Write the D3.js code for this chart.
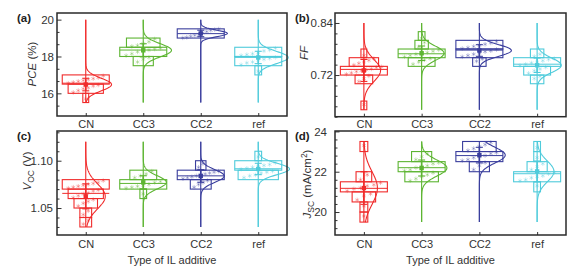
<!DOCTYPE html>
<html>
<head>
<meta charset="utf-8">
<script src="https://cdn.jsdelivr.net/npm/d3@7/dist/d3.min.js"></script>
<style>
    body { margin: 0; background: #fff; }
    svg { display: block; font-family: "Liberation Sans", Arial, sans-serif; }
</style>
</head>
<body>
<div id="chart"></div>
<script>
// Groups along the x axis
var categories = ["CN", "CC3", "CC2", "ref"];

// PCE (%) of each device, one list per group
var pceValues = [
    [15.7, 16.05, 16.15, 16.25, 16.3, 16.4, 16.45, 16.55, 16.6, 16.65, 16.7, 16.75, 16.8, 16.85, 16.95],
    [17.7, 17.85, 17.95, 18.05, 18.15, 18.25, 18.3, 18.35, 18.4, 18.45, 18.55, 18.6, 18.7, 18.8, 18.95],
    [19.01, 19.04, 19.1, 19.15, 19.2, 19.28, 19.35, 19.42, 19.46, 19.49],
    [17.2, 17.55, 17.65, 17.7, 17.8, 17.85, 17.9, 17.95, 18.05, 18.1, 18.15, 18.2, 18.3, 18.35, 18.45]
];

// FF
var ffValues = [
    [0.652, 0.705, 0.712, 0.718, 0.722, 0.725, 0.728, 0.73, 0.732, 0.734, 0.737, 0.739, 0.743, 0.747, 0.75, 0.754, 0.758, 0.765],
    [0.745, 0.75, 0.755, 0.758, 0.762, 0.765, 0.768, 0.77, 0.772, 0.775, 0.778, 0.785, 0.795, 0.805],
    [0.752, 0.757, 0.762, 0.765, 0.768, 0.771, 0.774, 0.776, 0.779, 0.781, 0.783, 0.786, 0.789, 0.791, 0.794, 0.797],
    [0.712, 0.717, 0.724, 0.73, 0.734, 0.738, 0.742, 0.745, 0.748, 0.75, 0.753, 0.756, 0.758, 0.763, 0.768]
];

// Voc (V)
var vocValues = [
    [1.033, 1.037, 1.043, 1.047, 1.052, 1.055, 1.057, 1.059, 1.061, 1.063, 1.065, 1.066, 1.068, 1.069,
     1.071, 1.072, 1.073, 1.074, 1.075, 1.076, 1.077, 1.079],
    [1.065, 1.071, 1.072, 1.073, 1.074, 1.075, 1.077, 1.078, 1.082, 1.084, 1.086, 1.089],
    [1.072, 1.075, 1.077, 1.079, 1.081, 1.082, 1.083, 1.084, 1.085, 1.086, 1.087, 1.088, 1.089, 1.093, 1.097],
    [1.082, 1.084, 1.085, 1.087, 1.088, 1.089, 1.091, 1.092, 1.093, 1.094, 1.095, 1.096, 1.098, 1.104]
];

// Jsc (mA/cm2)
var jscValues = [
    [19.8, 20.3, 20.6, 20.8, 20.9, 21.05, 21.15, 21.2, 21.3, 21.35, 21.45, 21.6, 21.85, 23.3],
    [21.55, 21.65, 21.75, 21.85, 21.95, 22.05, 22.1, 22.2, 22.25, 22.3, 22.4, 22.45, 22.6, 22.75, 22.9],
    [22.1, 22.3, 22.45, 22.55, 22.6, 22.7, 22.75, 22.8, 22.9, 22.95, 23.05, 23.15, 23.25, 23.35, 23.45],
    [21.3, 21.55, 21.6, 21.7, 21.75, 21.8, 21.9, 21.95, 22.1, 22.25, 22.4, 22.7, 23.2]
];

// Labelled y ticks of each panel
var pceTicks = [16, 18, 20];
var ffTicks = [0.72, 0.84];
var vocTicks = [1.05, 1.10];
var jscTicks = [20, 22, 24];

function init() {
    var w = 580;
    var h = 266;

    // Group colours: red, green, navy, cyan
    var colors = ["#f02b2b", "#5db532", "#3a3e9d", "#4fcbdb"];
    var maxHalf = 23.5; // half width of the tallest histogram bar

    var svg = d3.select("#chart")
        .append("svg")
        .attr("width", w)
        .attr("height", h);

    var panels = [
        { tag: "(a)", values: pceValues, ticks: pceTicks, fmt: d3.format("d"),
          left: 57, right: 287, top: 13, bottom: 116, domain: [14.77, 20.36],
          minorStep: 2 / 3, binW: 0.5, span: [15.5, 20], tickGap: 3,
          tagX: 17, tagY: 22, titleX: 36, titleY: 64, title: "pce", xLabels: false },
        { tag: "(b)", values: ffValues, ticks: ffTicks, fmt: d3.format(".2f"),
          left: 335, right: 566, top: 13, bottom: 116.7, domain: [0.624, 0.863],
          minorStep: 0.024, binW: 0.02, span: [0.64, 0.84], tickGap: 2,
          tagX: 295, tagY: 22, titleX: 308, titleY: 53, title: "ff", xLabels: false },
        { tag: "(c)", values: vocValues, ticks: vocTicks, fmt: d3.format(".2f"),
          left: 57, right: 287, top: 131, bottom: 235, domain: [1.0215, 1.1314],
          minorStep: 0.01, binW: 0.01, span: [1.03, 1.12], tickGap: 4,
          tagX: 17, tagY: 140, titleX: 31, titleY: 171, title: "voc", xLabels: true },
        { tag: "(d)", values: jscValues, ticks: jscTicks, fmt: d3.format("d"),
          left: 335, right: 566, top: 131, bottom: 235, domain: [18.86, 24.02],
          minorStep: 0.4, binW: 0.5, span: [19.5, 23.5], tickGap: 8,
          tagX: 295, tagY: 140, titleX: 311, titleY: 184, title: "jsc", xLabels: true }
    ];

    panels.forEach(function (p) {
        var x = d3.scaleLinear().domain([0.5, 4.5]).range([p.left, p.right]);
        var y = d3.scaleLinear().domain(p.domain).range([p.bottom, p.top]);
        var g = svg.append("g");

        // Minor ticks between the labelled ones
        var minor = [];
        var m = Math.ceil((p.domain[0] - p.ticks[0]) / p.minorStep - 1e-6);
        for (var v = p.ticks[0] + m * p.minorStep; v < p.domain[1]; v += p.minorStep) {
            var isMajor = p.ticks.some(function (t) { return Math.abs(t - v) < 1e-6; });
            if (!isMajor) minor.push(v);
        }

        g.append("g")
            .attr("transform", "translate(" + p.left + ",0)")
            .call(d3.axisLeft(y).tickValues(minor).tickSize(-2.5).tickFormat(""))
            .call(function (a) { a.select(".domain").remove(); })
            .selectAll("line").attr("stroke", "#333");

        var yAxis = g.append("g")
            .attr("transform", "translate(" + p.left + ",0)")
            .call(d3.axisLeft(y).tickValues(p.ticks).tickSize(-4.5).tickPadding(p.tickGap).tickFormat(p.fmt));
        yAxis.select(".domain").remove();
        yAxis.selectAll("line").attr("stroke", "#333");
        yAxis.selectAll("text")
            .attr("fill", "#333")
            .style("font-size", "11.5px")
            .style("font-family", "'Liberation Sans', Arial, sans-serif");

        var xAxis = g.append("g")
            .attr("transform", "translate(0," + p.bottom + ")")
            .call(d3.axisBottom(x).tickValues([1, 2, 3, 4]).tickSize(-3)
                .tickPadding(p.xLabels ? 5 : 4)
                .tickFormat(function (d) { return categories[d - 1]; }));
        xAxis.select(".domain").remove();
        xAxis.selectAll("line").attr("stroke", "#333");
        xAxis.selectAll("text")
            .attr("fill", "#333")
            .style("font-size", "11px")
            .style("font-family", "'Liberation Sans', Arial, sans-serif");

        // One group at a time: line, histogram, points, curve, mean and SD
        p.values.forEach(function (vals, i) {
            var cx = x(i + 1);
            var col = colors[i];
            var thresholds = d3.range(p.span[0], p.span[1] + p.binW / 2, p.binW);
            var bins = d3.bin()
                .domain([p.span[0], p.span[1]])
                .thresholds(thresholds)(vals)
                .filter(function (b) { return b.length > 0; });
            var unit = maxHalf / d3.max(bins, function (b) { return b.length; });
            var mean = d3.mean(vals);
            var sd = d3.deviation(vals);
            var med = d3.median(vals);

            g.append("line")
                .attr("x1", cx).attr("x2", cx)
                .attr("y1", y(p.span[0])).attr("y2", y(p.span[1]))
                .attr("stroke", col).attr("stroke-width", 1.1);

            g.selectAll(null)
                .data(bins)
                .enter()
                .append("rect")
                .attr("x", function (b) { return cx - b.length * unit; })
                .attr("width", function (b) { return 2 * b.length * unit; })
                .attr("y", function (b) { return y(b.x1); })
                .attr("height", function (b) { return y(b.x0) - y(b.x1); })
                .attr("fill", "none")
                .attr("stroke", col)
                .attr("stroke-width", 1.1);

            // Scatter spread across its own bar
            bins.forEach(function (b) {
                var half = b.length * unit;
                b.slice().sort(d3.ascending).forEach(function (v, j) {
                    var px = cx + ((j + 0.5) / b.length - 0.5) * 2 * half * 0.85;
                    g.append("path")
                        .attr("d", d3.symbol().type(d3.symbolAsterisk).size(14)())
                        .attr("transform", "translate(" + px + "," + y(v) + ")")
                        .attr("fill", "none")
                        .attr("stroke", col)
                        .attr("stroke-opacity", 0.4)
                        .attr("stroke-width", 0.8);
                });
            });

            // Normal curve with the same area as the histogram
            var area = vals.length * p.binW * unit;
            var pts = d3.range(0, 121).map(function (k) {
                var v = p.span[0] + (p.span[1] - p.span[0]) * k / 120;
                var z = (v - mean) / sd;
                return [cx + area * Math.exp(-0.5 * z * z) / (sd * Math.sqrt(2 * Math.PI)), y(v)];
            });
            g.append("path")
                .attr("d", d3.line()(pts))
                .attr("fill", "none")
                .attr("stroke", col)
                .attr("stroke-width", 1.1);

            // Median line across the widest bar
            g.append("line")
                .attr("x1", cx - maxHalf).attr("x2", cx + maxHalf)
                .attr("y1", y(med)).attr("y2", y(med))
                .attr("stroke", col).attr("stroke-width", 1);

            // Mean +/- SD
            [mean - sd, mean + sd].forEach(function (v) {
                g.append("line")
                    .attr("x1", cx - 3.5).attr("x2", cx + 3.5)
                    .attr("y1", y(v)).attr("y2", y(v))
                    .attr("stroke", col).attr("stroke-width", 1.1);
            });
            g.append("line")
                .attr("x1", cx).attr("x2", cx)
                .attr("y1", y(mean - sd)).attr("y2", y(mean + sd))
                .attr("stroke", col).attr("stroke-width", 1.6);
            g.append("rect")
                .attr("x", cx - 2.2).attr("y", y(mean) - 2.2)
                .attr("width", 4.4).attr("height", 4.4)
                .attr("fill", col);
        });

        // Frame
        g.append("rect")
            .attr("x", p.left).attr("y", p.top)
            .attr("width", p.right - p.left).attr("height", p.bottom - p.top)
            .attr("fill", "none")
            .attr("stroke", "#2a2a2a")
            .attr("stroke-width", 1.5);

        // Panel letter
        g.append("text")
            .attr("x", p.tagX).attr("y", p.tagY)
            .attr("font-size", 11.5)
            .attr("font-weight", "bold")
            .attr("fill", "#222")
            .text(p.tag);

        // Y title
        var t = g.append("text")
            .attr("transform", "translate(" + p.titleX + "," + p.titleY + ") rotate(-90)")
            .attr("text-anchor", "middle")
            .attr("font-size", 11.5)
            .attr("fill", "#333");
        if (p.title === "pce") {
            t.append("tspan").attr("font-style", "italic").text("PCE");
            t.append("tspan").text(" (%)");
        } else if (p.title === "ff") {
            t.append("tspan").attr("font-style", "italic").text("FF");
        } else if (p.title === "voc") {
            t.append("tspan").attr("font-style", "italic").text("V");
            t.append("tspan").attr("font-size", 8.5).attr("dy", 3).text("OC");
            t.append("tspan").attr("dy", -3).text(" (V)");
        } else {
            t.append("tspan").attr("font-style", "italic").text("J");
            t.append("tspan").attr("font-size", 8.5).attr("dy", 3).text("SC");
            t.append("tspan").attr("dy", -3).text(" (mA/cm");
            t.append("tspan").attr("font-size", 8.5).attr("dy", -4).text("2");
            t.append("tspan").attr("dy", 4).text(")");
        }

        // X title under the bottom row
        if (p.xLabels) {
            g.append("text")
                .attr("x", (p.left + p.right) / 2)
                .attr("y", 264)
                .attr("text-anchor", "middle")
                .attr("font-size", 11)
                .attr("fill", "#333")
                .text("Type of IL additive");
        }
    });
}

window.onload = init;
</script>
</body>
</html>
